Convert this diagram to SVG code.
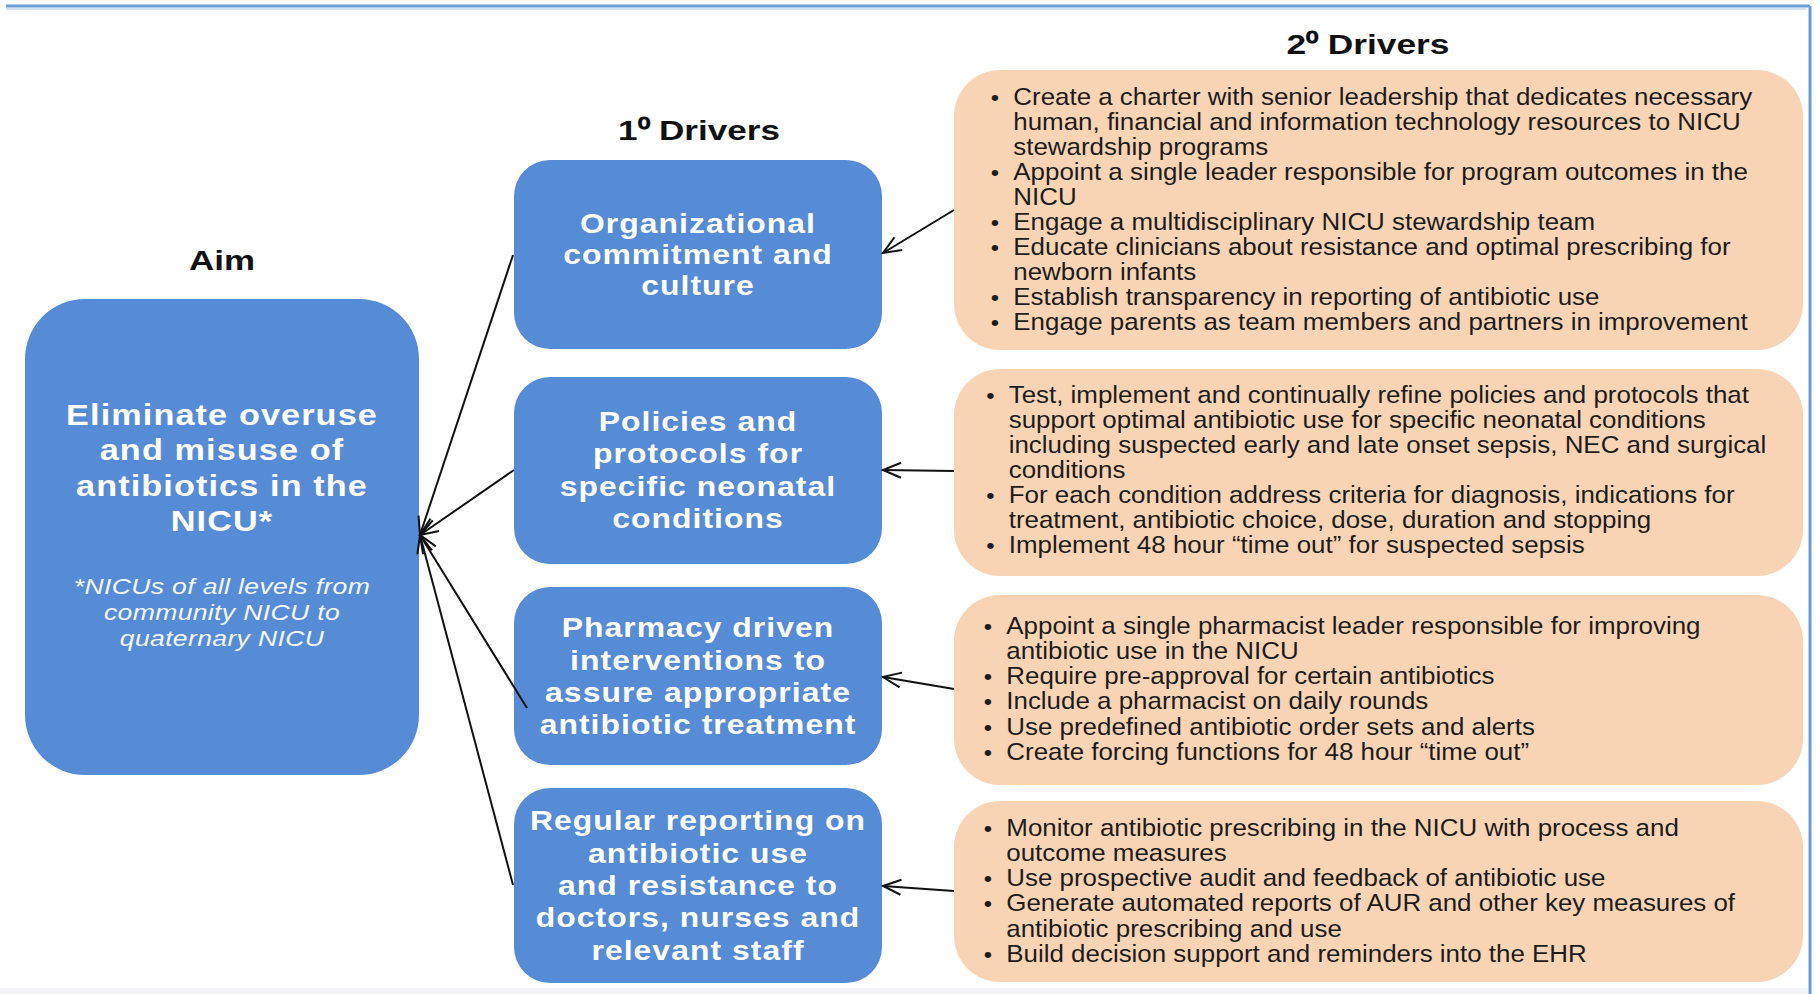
<svg xmlns="http://www.w3.org/2000/svg" width="1820" height="994" viewBox="0 0 1820 994">
  <defs>
    <style>
      .frame { stroke: #6a9fd8; stroke-width: 3; fill: none; }
      .frame-soft { stroke: #d4e3f4; stroke-width: 2; fill: none; }
      .aim { fill: #568cd5; }
      .primary { fill: #568cd5; }
      .secondary { fill: #f9d4b4; }
      .title { font-family: "Liberation Sans", Arial, sans-serif; font-weight: bold; font-size: 27px; fill: #111; text-anchor: middle; }
      .box-text { font-family: "Liberation Sans", Arial, sans-serif; font-weight: bold; font-size: 27px; fill: #ffffff; text-anchor: middle; letter-spacing: 0.9px; }
      .aim-text { font-family: "Liberation Sans", Arial, sans-serif; font-weight: bold; font-size: 29px; fill: #ffffff; text-anchor: middle; letter-spacing: 0.95px; }
      .aim-note { font-family: "Liberation Sans", Arial, sans-serif; font-style: italic; font-size: 22.5px; fill: #f2f6fc; text-anchor: middle; letter-spacing: 0.3px; }
      .item { font-family: "Liberation Sans", Arial, sans-serif; font-size: 24px; fill: #1c1c1c; }
      .bullet { font-family: "Liberation Sans", Arial, sans-serif; font-size: 22px; fill: #1c1c1c; text-anchor: middle; }
      .link { stroke: #111; stroke-width: 2; fill: none; marker-end: url(#open); }
    </style>
    <marker id="open" viewBox="0 0 22 18" refX="20" refY="9" markerWidth="22" markerHeight="18" orient="auto" markerUnits="userSpaceOnUse">
      <path d="M2,1.5 L20,9 L2,16.5" fill="none" stroke="#111" stroke-width="2"/>
    </marker>
  </defs>

  <rect x="0" y="0" width="1820" height="994" fill="#ffffff"/>
  <rect x="0" y="988" width="1808" height="6" fill="#f4f4f6"/>

  <!-- page frame -->
  <line class="frame-soft" x1="6" y1="9" x2="1806" y2="9"/>
  <line class="frame" x1="6" y1="6" x2="1810" y2="6"/>
  <line class="frame" x1="1810" y1="6" x2="1810" y2="994"/>

  <!-- column headings -->
  <text class="title" x="1368" y="54" textLength="163" lengthAdjust="spacingAndGlyphs">2⁰ Drivers</text>
  <text class="title" x="699" y="140" textLength="162" lengthAdjust="spacingAndGlyphs">1⁰ Drivers</text>
  <text class="title" x="222" y="270" textLength="66" lengthAdjust="spacingAndGlyphs">Aim</text>

  <!-- aim -->
  <g id="aim">
    <rect class="aim" x="25" y="299" width="394" height="476" rx="60" ry="60"/>
    <g transform="translate(222 0) scale(1.18 1)">
      <text class="aim-text" x="0" y="425">Eliminate overuse</text>
      <text class="aim-text" x="0" y="460">and misuse of</text>
      <text class="aim-text" x="0" y="496">antibiotics in the</text>
      <text class="aim-text" x="0" y="531">NICU*</text>
      <text class="aim-note" x="0" y="594">*NICUs of all levels from</text>
      <text class="aim-note" x="0" y="620">community NICU to</text>
      <text class="aim-note" x="0" y="646">quaternary NICU</text>
    </g>
  </g>

  <!-- primary drivers -->
  <g id="primary-1">
    <rect class="primary" x="514" y="160" width="368" height="189" rx="36" ry="36"/>
    <g transform="translate(698 0) scale(1.18 1)">
      <text class="box-text" x="0" y="233">Organizational</text>
      <text class="box-text" x="0" y="264.5">commitment and</text>
      <text class="box-text" x="0" y="295.5">culture</text>
    </g>
  </g>
  <g id="primary-2">
    <rect class="primary" x="514" y="377" width="368" height="187" rx="36" ry="36"/>
    <g transform="translate(698 0) scale(1.18 1)">
      <text class="box-text" x="0" y="431">Policies and</text>
      <text class="box-text" x="0" y="463.5">protocols for</text>
      <text class="box-text" x="0" y="496">specific neonatal</text>
      <text class="box-text" x="0" y="528.5">conditions</text>
    </g>
  </g>
  <g id="primary-3">
    <rect class="primary" x="514" y="587" width="368" height="178" rx="36" ry="36"/>
    <g transform="translate(698 0) scale(1.18 1)">
      <text class="box-text" x="0" y="637.5">Pharmacy driven</text>
      <text class="box-text" x="0" y="670">interventions to</text>
      <text class="box-text" x="0" y="702.5">assure appropriate</text>
      <text class="box-text" x="0" y="734.5">antibiotic treatment</text>
    </g>
  </g>
  <g id="primary-4">
    <rect class="primary" x="514" y="788" width="368" height="195" rx="36" ry="36"/>
    <g transform="translate(698 0) scale(1.18 1)">
      <text class="box-text" x="0" y="830.5">Regular reporting on</text>
      <text class="box-text" x="0" y="863">antibiotic use</text>
      <text class="box-text" x="0" y="895.5">and resistance to</text>
      <text class="box-text" x="0" y="927.5">doctors, nurses and</text>
      <text class="box-text" x="0" y="960">relevant staff</text>
    </g>
  </g>

  <!-- secondary drivers -->
  <g id="secondary-1">
    <rect class="secondary" x="954" y="70" width="849" height="280" rx="46" ry="46"/>
    <g transform="translate(1013.3 0) scale(1.08 1)">
      <text class="bullet" x="-17" y="105.5">•</text>
      <text class="item" x="0" y="105.5">Create a charter with senior leadership that dedicates necessary</text>
      <text class="item" x="0" y="130.5">human, financial and information technology resources to NICU</text>
      <text class="item" x="0" y="155.5">stewardship programs</text>
      <text class="bullet" x="-17" y="180.5">•</text>
      <text class="item" x="0" y="180.5">Appoint a single leader responsible for program outcomes in the</text>
      <text class="item" x="0" y="205.5">NICU</text>
      <text class="bullet" x="-17" y="230.5">•</text>
      <text class="item" x="0" y="230.5">Engage a multidisciplinary NICU stewardship team</text>
      <text class="bullet" x="-17" y="255.5">•</text>
      <text class="item" x="0" y="255.5">Educate clinicians about resistance and optimal prescribing for</text>
      <text class="item" x="0" y="280.5">newborn infants</text>
      <text class="bullet" x="-17" y="305.5">•</text>
      <text class="item" x="0" y="305.5">Establish transparency in reporting of antibiotic use</text>
      <text class="bullet" x="-17" y="330.5">•</text>
      <text class="item" x="0" y="330.5">Engage parents as team members and partners in improvement</text>
    </g>
  </g>
  <g id="secondary-2">
    <rect class="secondary" x="954" y="369" width="849" height="207" rx="46" ry="46"/>
    <g transform="translate(1008.7 0) scale(1.08 1)">
      <text class="bullet" x="-17" y="402.6">•</text>
      <text class="item" x="0" y="402.6">Test, implement and continually refine policies and protocols that</text>
      <text class="item" x="0" y="427.8">support optimal antibiotic use for specific neonatal conditions</text>
      <text class="item" x="0" y="452.9">including suspected early and late onset sepsis, NEC and surgical</text>
      <text class="item" x="0" y="478.1">conditions</text>
      <text class="bullet" x="-17" y="503.2">•</text>
      <text class="item" x="0" y="503.2">For each condition address criteria for diagnosis, indications for</text>
      <text class="item" x="0" y="528.4">treatment, antibiotic choice, dose, duration and stopping</text>
      <text class="bullet" x="-17" y="553.5">•</text>
      <text class="item" x="0" y="553.5">Implement 48 hour “time out” for suspected sepsis</text>
    </g>
  </g>
  <g id="secondary-3">
    <rect class="secondary" x="954" y="595" width="849" height="190" rx="46" ry="46"/>
    <g transform="translate(1006.3 0) scale(1.08 1)">
      <text class="bullet" x="-17" y="633.6">•</text>
      <text class="item" x="0" y="633.6">Appoint a single pharmacist leader responsible for improving</text>
      <text class="item" x="0" y="658.9">antibiotic use in the NICU</text>
      <text class="bullet" x="-17" y="684.2">•</text>
      <text class="item" x="0" y="684.2">Require pre-approval for certain antibiotics</text>
      <text class="bullet" x="-17" y="709.5">•</text>
      <text class="item" x="0" y="709.5">Include a pharmacist on daily rounds</text>
      <text class="bullet" x="-17" y="734.8">•</text>
      <text class="item" x="0" y="734.8">Use predefined antibiotic order sets and alerts</text>
      <text class="bullet" x="-17" y="760.1">•</text>
      <text class="item" x="0" y="760.1">Create forcing functions for 48 hour “time out”</text>
    </g>
  </g>
  <g id="secondary-4">
    <rect class="secondary" x="954" y="801" width="849" height="181" rx="46" ry="46"/>
    <g transform="translate(1006.3 0) scale(1.08 1)">
      <text class="bullet" x="-17" y="835.5">•</text>
      <text class="item" x="0" y="835.5">Monitor antibiotic prescribing in the NICU with process and</text>
      <text class="item" x="0" y="860.8">outcome measures</text>
      <text class="bullet" x="-17" y="886.1">•</text>
      <text class="item" x="0" y="886.1">Use prospective audit and feedback of antibiotic use</text>
      <text class="bullet" x="-17" y="911.4">•</text>
      <text class="item" x="0" y="911.4">Generate automated reports of AUR and other key measures of</text>
      <text class="item" x="0" y="936.7">antibiotic prescribing and use</text>
      <text class="bullet" x="-17" y="962">•</text>
      <text class="item" x="0" y="962">Build decision support and reminders into the EHR</text>
    </g>
  </g>

  <!-- connectors -->
  <g id="connectors">
    <line class="link" x1="513" y1="255" x2="420" y2="535"/>
    <line class="link" x1="514" y1="470" x2="420" y2="535"/>
    <line class="link" x1="527" y1="708" x2="420" y2="535"/>
    <line class="link" x1="513" y1="885" x2="420" y2="535"/>
    <line class="link" x1="954" y1="210" x2="883" y2="253"/>
    <line class="link" x1="954" y1="471" x2="883" y2="470"/>
    <line class="link" x1="954" y1="689" x2="883" y2="677"/>
    <line class="link" x1="954" y1="891" x2="883" y2="886"/>
  </g>
</svg>
